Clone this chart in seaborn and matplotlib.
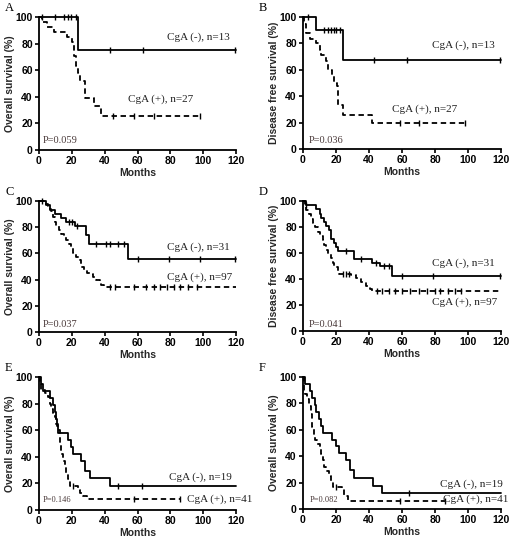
import numpy as np
import seaborn as sns
import matplotlib.pyplot as plt

# Kaplan-Meier curves: step times (months) and survival (%)
# A: overall survival
A_neg_t = [0, 24]
A_neg_s = [100, 75]
A_neg_cens = [2, 9.5, 15.5, 17.5, 19.5, 22.5, 43, 63.5, 119.5]
A_pos_t = [0, 2, 5, 9, 17, 20, 21.5, 22.5, 23.5, 25, 28, 33.5, 37.5]
A_pos_s = [100, 96.3, 92.6, 88.9, 85.2, 81.5, 70.4, 63.0, 57.8, 51.9, 38.9, 33.3, 25.9]
A_pos_cens = [45, 58, 70, 98]

# B: disease free survival
B_neg_t = [0, 8, 24]
B_neg_s = [100, 90, 67.5]
B_neg_cens = [3, 13, 15, 17, 18.5, 20, 22.5, 43, 63, 119.5]
B_pos_t = [0, 0.8, 2, 4, 8, 10, 11, 14, 15, 17.5, 19, 20.5, 21.5, 24, 42]
B_pos_s = [100, 95, 88, 83, 80, 75, 71, 67, 60, 56, 50, 48, 33, 26, 20]
B_pos_cens = [59, 70, 98]

# C: overall survival
C_neg_t = [0, 4, 6.5, 9.5, 13.5, 16.5, 22, 28.5, 30.5, 54]
C_neg_s = [100, 96.8, 93.5, 90.3, 87.1, 83.9, 80.6, 74.2, 67.4, 55.6]
C_neg_cens = [2, 18, 20, 23, 35, 41, 43, 48, 52, 60, 79, 98, 119.5]
C_pos_t = [0, 3.5, 5.5, 6.5, 7.5, 8.5, 9.5, 10.6, 12.2, 13.6, 15, 16.7, 18, 19.7,
           21, 22.8, 24.8, 25.8, 27.3, 29, 31, 33, 35, 37, 38, 39.5]
C_pos_s = [100, 98, 96, 94, 92, 88, 84, 81, 78, 75, 73, 70, 67, 64,
           60, 57, 55, 50, 47, 45, 44, 42, 40, 38, 36, 34]
C_pos_cens = [43, 46, 58, 65, 70, 74, 78, 82, 86, 91, 96]

# D: disease free survival
D_neg_t = [0, 2, 8, 10, 11, 13, 14, 16, 17, 19, 20, 21.5, 31, 42, 46.5, 54]
D_neg_s = [100, 96.8, 93.5, 90.3, 87.1, 83.9, 80.6, 77.4, 71.0, 67.7, 64.5, 61.3,
           55.7, 52.2, 50.1, 42.0]
D_neg_cens = [2, 26, 35, 44, 49, 52, 60, 79, 119.5]
D_pos_t = [0, 1, 2, 3.6, 5, 6, 7, 9, 10.5, 12, 13, 14, 15, 17, 18, 19, 21, 22,
           29, 32, 35, 38, 40.5, 42]
D_pos_s = [100, 96, 93, 90, 86, 83, 80, 76, 73, 70, 66, 62, 59, 56, 52, 49, 45, 44,
           43, 41, 38, 35, 32, 31]
D_pos_cens = [24, 26, 28, 45, 48, 52, 56, 60, 65, 70, 75, 80, 83, 88, 92, 96]

# E: overall survival
E_neg_t = [0, 1, 2.4, 6.5, 8.5, 9.5, 10.5, 11, 11.6, 17.7, 19.7, 21, 25.8, 27.9, 31, 43]
E_neg_s = [100, 94.7, 89.5, 84.2, 78.9, 73.7, 68.4, 63.2, 57.9, 52.6, 47.4, 42.1,
           36.8, 29.5, 23.7, 17.8]
E_neg_cens = [48, 63]
E_pos_t = [0, 0.5, 1, 1.4, 3.5, 5.5, 6.5, 7.5, 8.5, 9.5, 10.6, 11.6, 12.6, 13.2,
           14.6, 15.7, 16.7, 17.7, 18.7, 23.8, 24.8, 26.8, 29.3]
E_pos_s = [100, 97, 95, 90, 88, 85, 80, 76, 73, 70, 65, 60, 50, 42,
           37, 33, 28, 23, 18, 15, 13, 10.6, 8]
E_pos_cens = [21, 58, 86]

# F: overall survival
F_neg_t = [0, 1, 4, 5.5, 7, 8, 9.5, 10.7, 12, 17.6, 20.2, 21.7, 26.3, 28.3, 31, 42.5, 47.6]
F_neg_s = [100, 94.7, 89.5, 84.2, 78.9, 73.7, 68.4, 63.2, 57.9, 52.6, 47.4, 42.1,
           36.8, 29.5, 23.7, 17.8, 11.8]
F_neg_cens = [64]
F_pos_t = [0, 0.6, 1.4, 2.6, 3.6, 4.7, 5.5, 6.7, 7.5, 8.7, 10, 11, 12, 13, 14,
           15.6, 16.8, 18.2, 23.7, 25, 27.3]
F_pos_s = [100, 90, 87, 83, 78, 72, 62, 56, 52, 49, 46, 42, 37, 32, 29,
           25, 21, 17, 15, 10, 5.9]
F_pos_cens = [20, 59, 86]

neg_end = [120, 120, 120, 120, 120, 120]
pos_end = [98, 98, 120, 120, 86, 86]

letters = ["A", "B", "C", "D", "E", "F"]
ylabels = ["Overall survival (%)", "Disease free survival (%)",
           "Overall survival (%)", "Disease free survival (%)",
           "Overall survival (%)", "Overall survival (%)"]
neg_labels = ["CgA (-), n=13", "CgA (-), n=13", "CgA (-), n=31",
              "CgA (-), n=31", "CgA (-), n=19", "CgA (-), n=19"]
pos_labels = ["CgA (+), n=27", "CgA (+), n=27", "CgA (+), n=97",
              "CgA (+), n=97", "CgA (+), n=41", "CgA (+), n=41"]
p_values = ["P=0.059", "P=0.036", "P=0.037", "P=0.041", "P=0.146", "P=0.082"]

# label anchor positions (data coords)
neg_xy = [(78, 85), (78, 79), (78, 65), (78, 52), (79, 25), (83, 19)]
pos_xy = [(54, 38), (54, 30), (78, 42), (78, 22), (90, 8), (85, 7.6)]
p_xy = [(2.4, 7), (3.6, 6.5), (2.4, 5.6), (3.6, 5), (2.4, 7.5), (4, 7)]
p_size = [7.5, 7.5, 7.5, 7.5, 6, 6]

negs = [(A_neg_t, A_neg_s, A_neg_cens), (B_neg_t, B_neg_s, B_neg_cens),
        (C_neg_t, C_neg_s, C_neg_cens), (D_neg_t, D_neg_s, D_neg_cens),
        (E_neg_t, E_neg_s, E_neg_cens), (F_neg_t, F_neg_s, F_neg_cens)]
poss = [(A_pos_t, A_pos_s, A_pos_cens), (B_pos_t, B_pos_s, B_pos_cens),
        (C_pos_t, C_pos_s, C_pos_cens), (D_pos_t, D_pos_s, D_pos_cens),
        (E_pos_t, E_pos_s, E_pos_cens), (F_pos_t, F_pos_s, F_pos_cens)]

sns.set_theme(style="ticks")
plt.rcParams['font.family'] = ['Liberation Sans', 'DejaVu Sans']

W, H = 515, 546
fig = plt.figure(figsize=(W / 100, H / 100), dpi=100)

# axes boxes in pixels: left, top, right, bottom
boxes = [(39, 17, 236, 150), (303, 17, 501, 149),
         (39, 201, 236, 332), (303, 201, 501, 331),
         (39, 377, 236, 510), (303, 377, 501, 509)]


def draw_km(ax, t, s, end, cens, ls):
    tt = list(t) + [end]
    ss = list(s) + [s[-1]]
    sns.lineplot(x=tt, y=ss, ax=ax, drawstyle='steps-post', estimator=None,
                 color='black', lw=1.3, linestyle=ls, clip_on=False)
    idx = np.searchsorted(t, cens, side='right') - 1
    cy = np.asarray(s)[idx]
    ax.plot(cens, cy, linestyle='none', marker='|', ms=4, mew=1.0,
            color='black', clip_on=False)


for i in range(6):
    l, t, r, b = boxes[i]
    ax = fig.add_axes([l / W, 1 - b / H, (r - l) / W, (b - t) / H])
    nt, ns, nc = negs[i]
    pt, ps, pc = poss[i]
    draw_km(ax, nt, ns, neg_end[i], nc, '-')
    draw_km(ax, pt, ps, pos_end[i], pc, (0, (3, 2)))

    ax.set_xlim(0, 120)
    ax.set_ylim(0, 100)
    ax.set_xticks(range(0, 121, 20))
    ax.set_yticks(range(0, 101, 20))
    for sp in ['top', 'right']:
        ax.spines[sp].set_visible(False)
    for sp in ['left', 'bottom']:
        ax.spines[sp].set_linewidth(1.3)
        ax.spines[sp].set_color('black')
    ax.tick_params(direction='out', length=3, width=1.2, pad=1.5,
                   labelsize=7.5, colors='black')
    for lab in ax.get_xticklabels() + ax.get_yticklabels():
        lab.set_fontweight('bold')

    ax.set_xlabel("Months", fontsize=7.5, fontweight='bold')
    ax.xaxis.set_label_coords(0.5, -0.135)
    ax.set_ylabel(ylabels[i], fontsize=7.5, fontweight='bold')
    ax.yaxis.set_label_coords(-0.122, 0.5)

    ax.text(*neg_xy[i], neg_labels[i], family='Liberation Serif', fontsize=8,
            color='#222222', va='center', ha='left', clip_on=False)
    ax.text(*pos_xy[i], pos_labels[i], family='Liberation Serif', fontsize=8,
            color='#222222', va='center', ha='left', clip_on=False)
    ax.text(*p_xy[i], p_values[i], family='Liberation Serif', fontsize=p_size[i],
            color='#4a3a3a', va='center', ha='left')

    lx = 5 if i % 2 == 0 else 259
    ly = t - 9
    fig.text(lx / W, 1 - ly / H, letters[i], family='Liberation Serif',
             fontsize=9, color='black', va='center', ha='left')

fig.savefig("out.png", dpi=100)
